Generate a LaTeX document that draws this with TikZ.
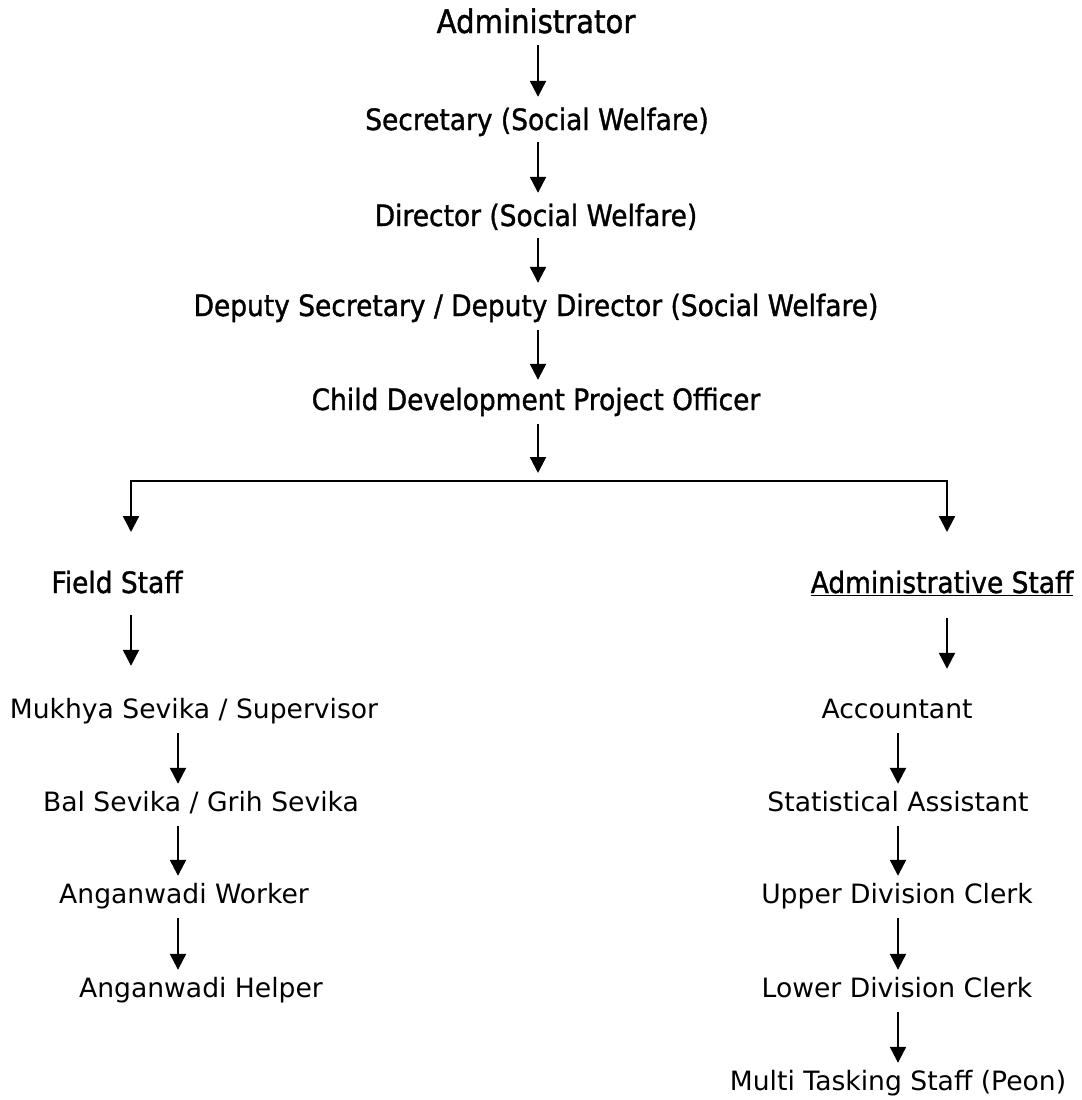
\documentclass[tikz,border=0pt]{standalone}
\usepackage{fontspec}
\setmainfont{DejaVu Sans}
\newfontfamily\topfont{DejaVu Sans}[FakeStretch=0.9,FakeBold=1.2]
\usepackage{tikz}
\usetikzlibrary{arrows.meta,calc}
\tikzset{
  post/.style={font=\topfont\fontsize{29.5}{32}\selectfont,anchor=base,inner sep=0pt,text height=20bp,text depth=6bp},
  wing/.style={font=\topfont\fontsize{29.5}{32}\selectfont,anchor=base,inner sep=0pt,text height=18bp,text depth=6bp},
  rank/.style={font=\fontsize{26.7}{30}\selectfont,anchor=base,inner sep=0pt,text height=19bp,text depth=6bp},
  arr/.style={line width=2.3bp,-{Triangle[width=16bp,length=16bp]},shorten <=9bp,shorten >=8bp},
  tips/.style={line width=2.3bp,{Triangle[width=16bp,length=16bp]}-{Triangle[width=16bp,length=16bp]}}
}
\begin{document}
\begin{tikzpicture}[x=1bp,y=-1bp]
\useasboundingbox (0,0) rectangle (1082,1100);
\coordinate (colM) at (538,0); % 中间一列
\coordinate (colL) at (178,0);
\coordinate (colR) at (898,0);
\coordinate (bar) at (0,481);
\coordinate (hub) at (538,473);
\coordinate (dropL) at (131,532);
\coordinate (dropR) at (947,532);
% 上面五级
\node[post,font=\topfont\fontsize{32.5}{35}\selectfont] (admin) at (536,33) {Administrator};
\node[post] (secy) at (537,130) {Secretary (Social Welfare)};
\node[post] (dir) at (536,226) {Director (Social Welfare)};
\node[post] (dydir) at (536,316) {Deputy Secretary / Deputy Director (Social Welfare)};
\node[post] (cdpo) at (536,410) {Child Development Project Officer};
% 两个分支
\node[wing] (field) at (117,593) {Field Staff};
\node[wing] (office) at (942,593) {\underline{Administrative Staff}};
\node[rank] (mukhya) at (194,718) {Mukhya Sevika / Supervisor};
\node[rank] (bal) at (201,811) {Bal Sevika / Grih Sevika};
\node[rank] (worker) at (184,903) {Anganwadi Worker};
\node[rank] (helper) at (201,997) {Anganwadi Helper};
\node[rank] (acct) at (897,718) {Accountant};
\node[rank] (stat) at (898,811) {Statistical Assistant};
\node[rank] (udc) at (897,903) {Upper Division Clerk};
\node[rank] (ldc) at (897,997) {Lower Division Clerk};
\node[rank] (mts) at (898,1090) {Multi Tasking Staff (Peon)};
% 箭头
\draw[arr,shorten <=6bp,shorten >=13bp] (admin.south -| colM) -- (secy.north -| colM);
\draw[arr,shorten <=6bp,shorten >=13bp] (secy.south -| colM) -- (dir.north -| colM);
\draw[arr,shorten <=6bp,shorten >=13bp] (dir.south -| colM) -- (dydir.north -| colM);
\draw[arr,shorten <=8bp,shorten >=10bp] (dydir.south -| colM) -- (cdpo.north -| colM);
\draw[arr,shorten <=8bp,shorten >=0bp] (cdpo.south -| colM) -- (hub);
\draw[tips] (dropL) -- (dropL |- bar) -- (dropR |- bar) -- (dropR);
\draw[arr,shorten <=16bp,shorten >=33bp] (field.south -| dropL) -- (mukhya.north -| dropL);
\draw[arr,shorten <=19bp,shorten >=30bp] (office.south -| dropR) -- (acct.north -| dropR);
\draw[arr] (mukhya.south -| colL) -- (bal.north -| colL);
\draw[arr] (bal.south -| colL) -- (worker.north -| colL);
\draw[arr] (worker.south -| colL) -- (helper.north -| colL);
\draw[arr] (acct.south -| colR) -- (stat.north -| colR);
\draw[arr] (stat.south -| colR) -- (udc.north -| colR);
\draw[arr] (udc.south -| colR) -- (ldc.north -| colR);
\draw[arr] (ldc.south -| colR) -- (mts.north -| colR);
\end{tikzpicture}
\end{document}
